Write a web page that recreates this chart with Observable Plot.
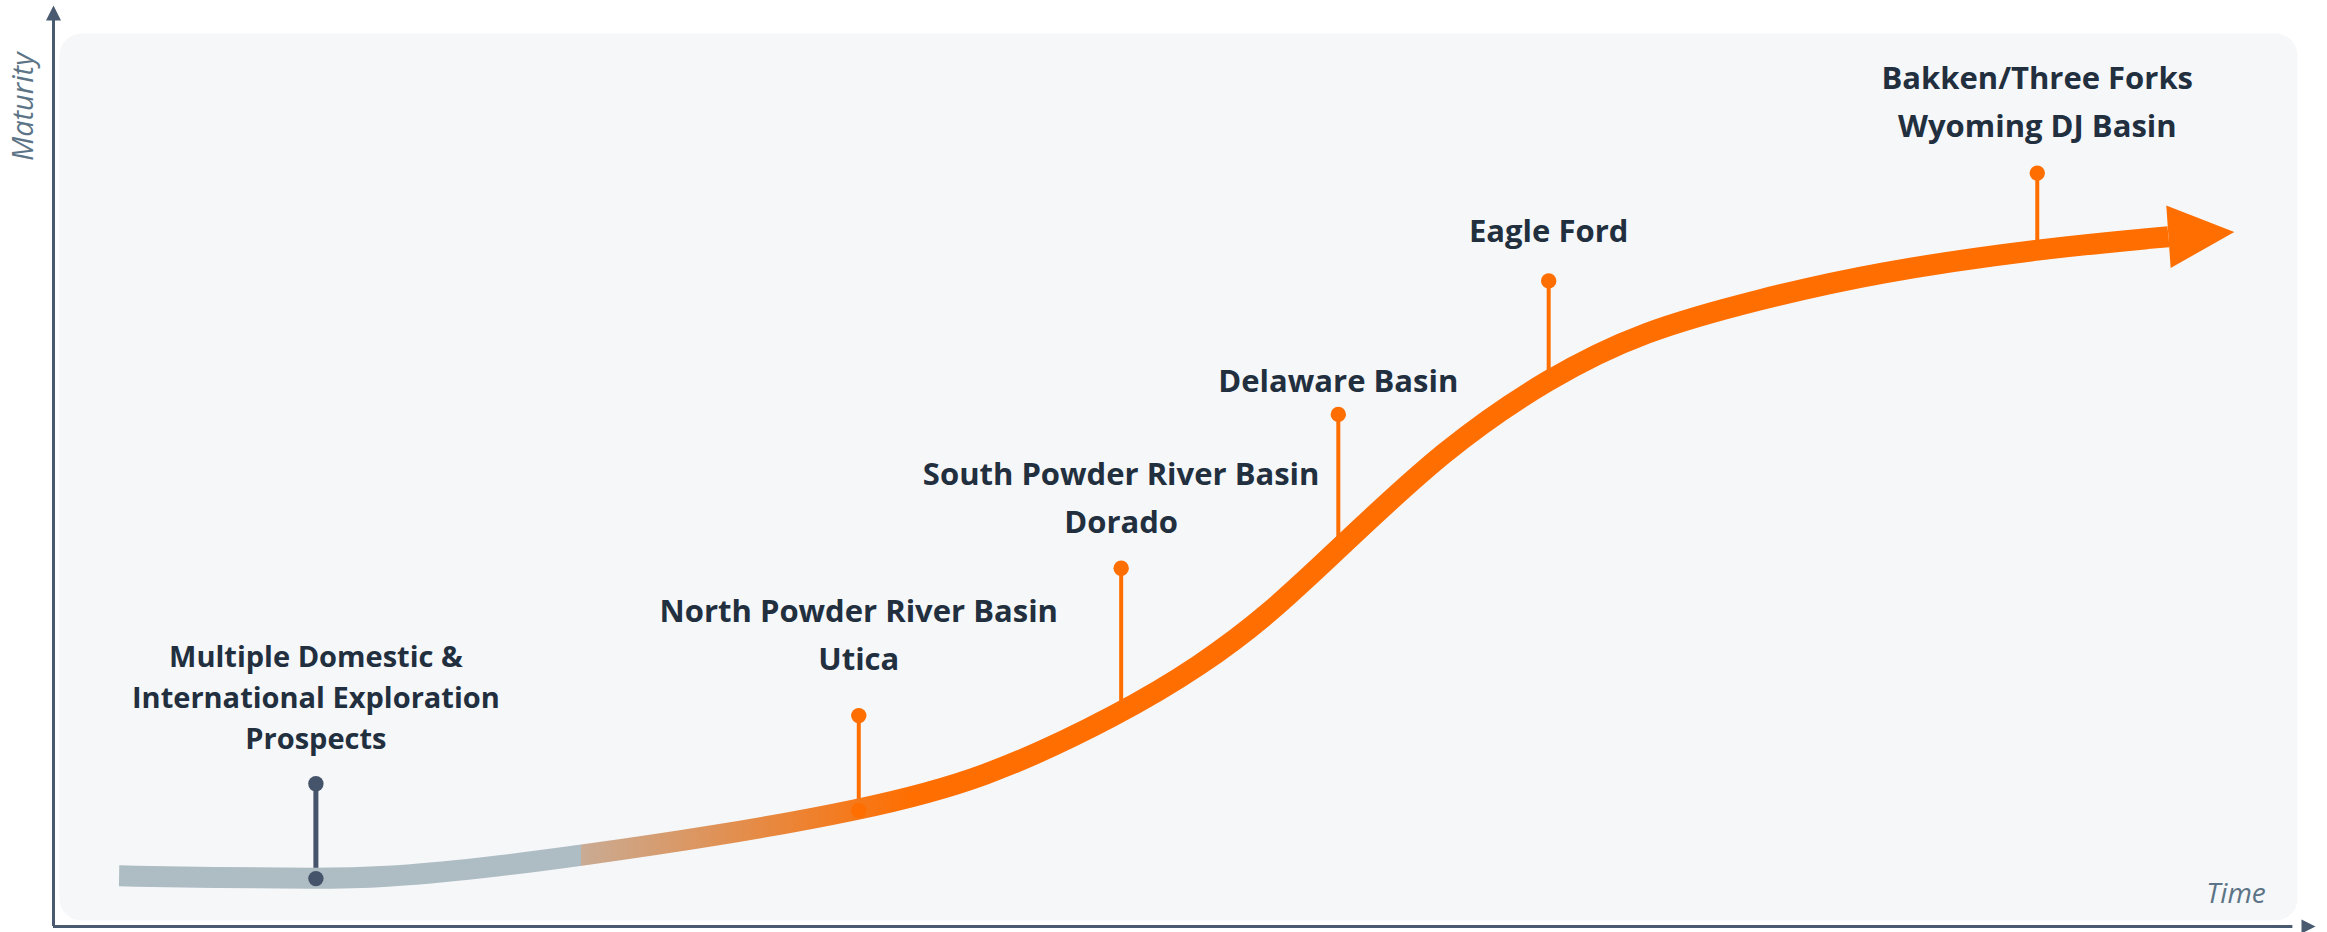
<!DOCTYPE html>
<html>
<head>
<meta charset="utf-8">
<script src="https://cdn.jsdelivr.net/npm/d3@7"></script>
<script src="https://cdn.jsdelivr.net/npm/@observablehq/plot@0.6"></script>
<style>
  html, body { margin: 0; padding: 0; background: #ffffff; }
  #chart svg { display: block; }
</style>
</head>
<body>
<div id="chart"></div>
<script>
// ---- Maturity curve (time 0–100, maturity 0–100) ----
const curveTime     = [2.9, 7.4, 11.6, 14.5, 18.9, 23.3, 29.2, 35.6, 41.1, 47.2, 50.7, 53.7, 56.8, 61.5, 66.1, 70.3, 75.4, 80.5, 87.8, 93.5];
const curveMaturity = [5.5, 5.3, 5.2, 5.3, 6.3, 7.7, 9.8, 12.6, 15.9, 23.1, 28.3, 33.8, 41.0, 51.9, 59.6, 64.7, 68.1, 71.0, 73.6, 74.9];

// colour blend from grey (exploration) to orange (development), in time units
const blendStart = 23.3;
const blendEnd = 38.0;

// ---- Milestones ----
const milestoneLabels = [
  "Multiple Domestic &\nInternational Exploration\nProspects",
  "North Powder River Basin\nUtica",
  "South Powder River Basin\nDorado",
  "Delaware Basin",
  "Eagle Ford",
  "Bakken/Three Forks\nWyoming DJ Basin"
];
const milestoneTime  = [11.6, 35.6, 47.2, 56.8, 66.1, 87.7];
const milestoneBase  = [5.2, 12.6, 23.1, 41.0, 59.6, 73.6];
const milestoneTop   = [15.5, 22.9, 38.9, 55.6, 70.1, 81.8];
const labelLevel     = [19.3, 27.8, 42.7, 58.0, 74.3, 85.7];
const milestoneStage = ["exploration", "development", "development", "development", "development", "development"];

const stages = ["exploration", "development"];
const axisTitles = ["Time", "Maturity"];

// ---- tables built from the arrays ----
const curve = curveTime.map((t, i) => ({time: t, maturity: curveMaturity[i]}));
const milestones = milestoneLabels.map((label, i) => ({
  label, time: milestoneTime[i], base: milestoneBase[i], top: milestoneTop[i],
  labelY: labelLevel[i], stage: milestoneStage[i]
}));
const curveEnd = curve[curve.length - 1];

// arrowhead symbols
const headForward = {draw(ctx, size) { const r = Math.sqrt(size / Math.PI); ctx.moveTo(0, -0.95 * r); ctx.lineTo(2 * r, 0); ctx.lineTo(0, 0.95 * r); ctx.closePath(); }};
const headAtTip = {draw(ctx, size) { const r = Math.sqrt(size / Math.PI); ctx.moveTo(0, 0); ctx.lineTo(-2 * r, -r); ctx.lineTo(-2 * r, r); ctx.closePath(); }};

const grey = "#aebcc4";
const orange = "#ff6e00";
const axisColor = "#4a5a70";

const chart = Plot.plot({
  width: 2327,
  height: 932,
  marginLeft: 53,
  marginRight: 12,
  marginTop: 5,
  marginBottom: 6,
  x: {domain: [0, 100], axis: null},
  y: {domain: [0, 100], axis: null},
  color: {domain: stages, range: ["#45546a", orange]},
  style: {background: "#ffffff", overflow: "visible"},
  marks: [
    Plot.frame({fill: "#f5f7f9", stroke: "none", rx: 22, insetLeft: 6, insetTop: 28, insetRight: 18, insetBottom: 6}),
    // stems
    Plot.ruleX(milestones, {x: "time", y1: "base", y2: "top", stroke: "stage", strokeWidth: d => d.stage === "exploration" ? 5 : 4}),
    // curve
    Plot.line(curve, {x: "time", y: "maturity", curve: "basis", stroke: "url(#curveGrad)", strokeWidth: 21, strokeLinecap: "butt", strokeLinejoin: "round"}),
    Plot.dot([curveEnd], {x: "time", y: "maturity", symbol: headForward, r: 33, fill: orange, stroke: "none", rotate: -4}),
    // dots
    Plot.dot(milestones, {x: "time", y: "top", r: 7.7, fill: "stage", stroke: "none"}),
    Plot.dot(milestones, {x: "time", y: "base", r: 7.7, fill: "stage", stroke: "none"}),
    // labels
    Plot.text(milestones.slice(0, 1), {x: "time", y: "labelY", text: "label", lineAnchor: "bottom", textAnchor: "middle", fontSize: 29, fontWeight: 700, fontFamily: "Open Sans", fill: "#222f3e", lineHeight: 41 / 29}),
    Plot.text(milestones.slice(1), {x: "time", y: "labelY", text: "label", lineAnchor: "bottom", textAnchor: "middle", fontSize: 31, fontWeight: 700, fontFamily: "Open Sans", fill: "#222f3e", lineHeight: 48.5 / 31}),
    // axes
    Plot.ruleY([0], {x1: 0, x2: 99, stroke: axisColor, strokeWidth: 3}),
    Plot.ruleX([0], {y1: 0, y2: 99, stroke: axisColor, strokeWidth: 3}),
    Plot.dot([{x: 100, y: 0}], {x: "x", y: "y", symbol: headAtTip, r: 7, fill: axisColor, stroke: "none"}),
    Plot.dot([{x: 0, y: 100}], {x: "x", y: "y", symbol: headAtTip, r: 7.5, fill: axisColor, stroke: "none", rotate: -90}),
    // axis titles
    Plot.text([axisTitles[0]], {x: 97.8, y: 2.5, text: d => d, textAnchor: "end", lineAnchor: "bottom", fontSize: 28, fontStyle: "italic", fontFamily: "Open Sans", fill: "#5c7486"}),
    Plot.text([axisTitles[1]], {x: -0.9, y: 89, text: d => d, textAnchor: "middle", lineAnchor: "bottom", rotate: -90, fontSize: 29, fontStyle: "italic", fontFamily: "Open Sans", fill: "#5c7486"})
  ]
});

// gradient for the curve (grey → orange), offsets from the time values
const t0 = curveTime[0], t1 = curveTime[curveTime.length - 1];
const off = t => ((t - t0) / (t1 - t0) * 100).toFixed(2) + "%";
const ns = "http://www.w3.org/2000/svg";
const defs = document.createElementNS(ns, "defs");
const grad = document.createElementNS(ns, "linearGradient");
grad.setAttribute("id", "curveGrad");
grad.setAttribute("x1", "0"); grad.setAttribute("y1", "0");
grad.setAttribute("x2", "1"); grad.setAttribute("y2", "0");
[[off(blendStart), grey], [off(blendStart), "#c9ab94"], [off(blendEnd), orange], ["100%", orange]].forEach(([o, c]) => {
  const s = document.createElementNS(ns, "stop");
  s.setAttribute("offset", o);
  s.setAttribute("stop-color", c);
  grad.appendChild(s);
});
defs.appendChild(grad);
chart.insertBefore(defs, chart.firstChild);

document.getElementById("chart").appendChild(chart);
</script>
</body>
</html>
